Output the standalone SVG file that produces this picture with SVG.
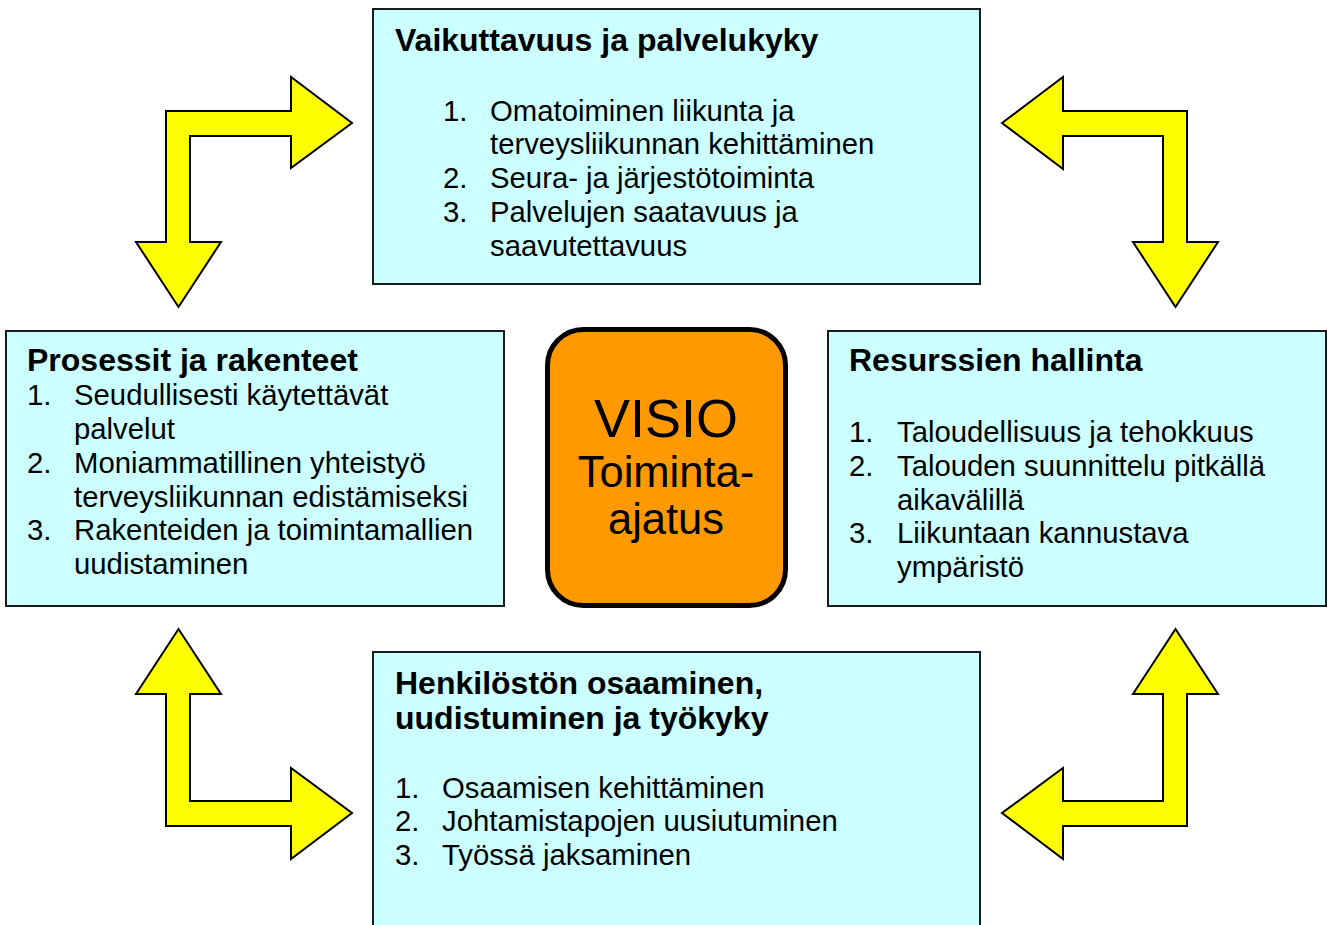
<svg xmlns="http://www.w3.org/2000/svg" width="1327" height="925" viewBox="0 0 1327 925">
<style>
.box{fill:#CCFFFF;stroke:#1a1a1a;stroke-width:2}
.arrow{fill:#FFFF00;stroke:#000;stroke-width:2;stroke-linejoin:miter}
.t{font-family:"Liberation Sans",Arial,Helvetica,sans-serif;fill:#000}
.h{font-size:32px;font-weight:bold}
.l{font-size:29.3px}
.c{text-anchor:middle}
</style>
<rect width="1327" height="925" fill="#fff"/>
<g id="connectors">
<polygon class="arrow" points="166,111 291,111 291,77 352,123 291,168 291,136 190,136 190,242 221,242 178.5,307 136,242 166,242"/>
<polygon class="arrow" points="1002,123 1063,77 1063,111 1187,111 1187,242 1218,242 1175.5,307 1133,242 1163,242 1163,136 1063,136 1063,169"/>
<polygon class="arrow" points="178.5,629 221,694 190,694 190,801 291,801 291,768 352,813 291,859 291,826 166,826 166,694 136,694"/>
<polygon class="arrow" points="1175.5,629 1218,694 1187,694 1187,826 1063,826 1063,859 1002,813 1063,768 1063,801 1163,801 1163,694 1133,694"/>
</g>
<g id="node-top">
<rect class="box" x="373" y="9" width="607" height="275"/>
<text class="t h" x="395" y="51">Vaikuttavuus ja palvelukyky</text>
<text class="t l" x="443" y="121">1.</text><text class="t l" x="490" y="121">Omatoiminen liikunta ja</text>
<text class="t l" x="490" y="154">terveysliikunnan kehittäminen</text>
<text class="t l" x="443" y="188">2.</text><text class="t l" x="490" y="188">Seura- ja järjestötoiminta</text>
<text class="t l" x="443" y="222">3.</text><text class="t l" x="490" y="222">Palvelujen saatavuus ja</text>
<text class="t l" x="490" y="256">saavutettavuus</text>
</g>
<g id="node-left">
<rect class="box" x="6" y="331" width="498" height="275"/>
<text class="t h" x="27" y="371">Prosessit ja rakenteet</text>
<text class="t l" x="27" y="405">1.</text><text class="t l" x="74" y="405">Seudullisesti käytettävät</text>
<text class="t l" x="74" y="439">palvelut</text>
<text class="t l" x="27" y="473">2.</text><text class="t l" x="74" y="473">Moniammatillinen yhteistyö</text>
<text class="t l" x="74" y="507">terveysliikunnan edistämiseksi</text>
<text class="t l" x="27" y="540">3.</text><text class="t l" x="74" y="540">Rakenteiden ja toimintamallien</text>
<text class="t l" x="74" y="574">uudistaminen</text>
</g>
<g id="node-right">
<rect class="box" x="828" y="331" width="498" height="275"/>
<text class="t h" x="849" y="371">Resurssien hallinta</text>
<text class="t l" x="849" y="442">1.</text><text class="t l" x="897" y="442">Taloudellisuus ja tehokkuus</text>
<text class="t l" x="849" y="476">2.</text><text class="t l" x="897" y="476">Talouden suunnittelu pitkällä</text>
<text class="t l" x="897" y="510">aikavälillä</text>
<text class="t l" x="849" y="543">3.</text><text class="t l" x="897" y="543">Liikuntaan kannustava</text>
<text class="t l" x="897" y="577">ympäristö</text>
</g>
<g id="node-bottom">
<rect class="box" x="373" y="652" width="607" height="290"/>
<text class="t h" x="395" y="694">Henkilöstön osaaminen,</text>
<text class="t h" x="395" y="729">uudistuminen ja työkyky</text>
<text class="t l" x="395" y="798">1.</text><text class="t l" x="442" y="798">Osaamisen kehittäminen</text>
<text class="t l" x="395" y="831">2.</text><text class="t l" x="442" y="831">Johtamistapojen uusiutuminen</text>
<text class="t l" x="395" y="865">3.</text><text class="t l" x="442" y="865">Työssä jaksaminen</text>
</g>
<g id="node-center">
<rect x="547.5" y="329.5" width="238" height="276" rx="36" fill="#FF9900" stroke="#000" stroke-width="5"/>
<text class="t c" x="666" y="437" font-size="54">VISIO</text>
<text class="t c" x="666" y="487" font-size="43.5">Toiminta-</text>
<text class="t c" x="666" y="534" font-size="43.5">ajatus</text>
</g>
</svg>
